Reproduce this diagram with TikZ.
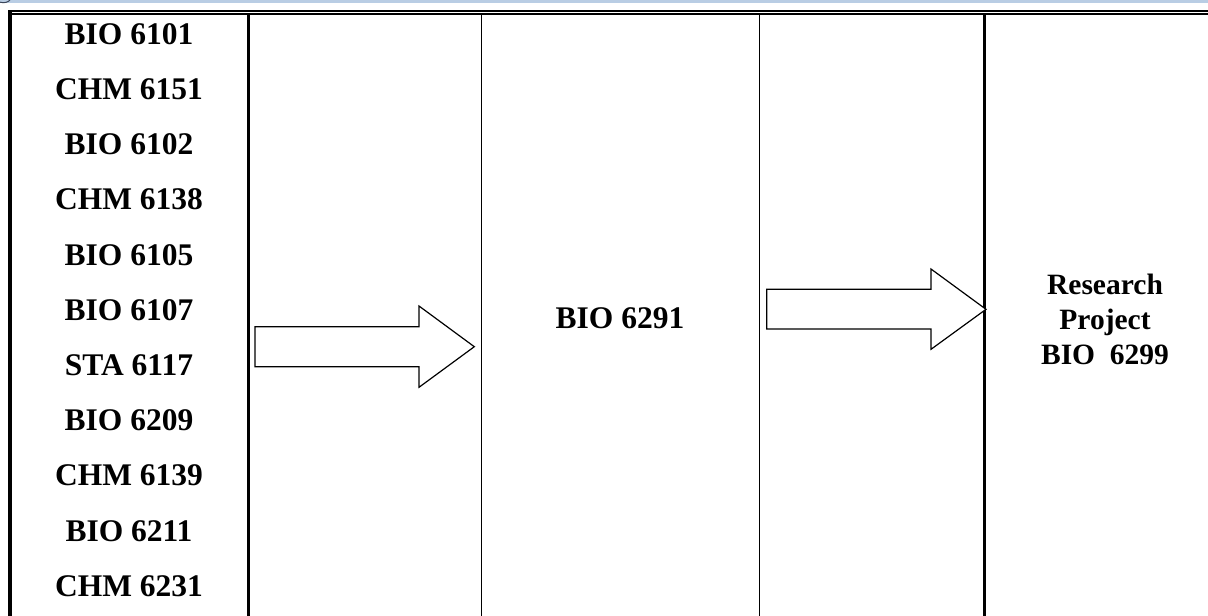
\documentclass[tikz,border=0pt]{standalone}
\usepackage{fontspec}
\setmainfont{Liberation Serif}
\definecolor{bandblue}{RGB}{185,205,228}
\definecolor{glyphgray}{RGB}{60,70,90}
\begin{document}
\begin{tikzpicture}[x=1pt,y=-1pt,
  course/.style={inner sep=0pt,font=\fontsize{31.5}{36}\selectfont\bfseries},
  research/.style={inner sep=0pt,align=center,font=\fontsize{29.5}{35}\selectfont\bfseries},
  thickrule/.style={line width=3pt},
  thinrule/.style={line width=1.6pt},
  blockarrow/.style={draw=black,fill=white,line width=1.2pt,line join=miter}]
\useasboundingbox (0,0) rectangle (1208,616);
\fill[white] (0,0) rectangle (1208,616);
% top band
\fill[bandblue] (0,0) rectangle (1208,3);
\draw[glyphgray,line width=1pt] (0,2.2) .. controls (4,3.2) and (8,2.5) .. (10,0);
% top double line
\draw[line width=1.8pt] (8,10.8) -- (1208,10.8);
\draw[line width=1.5pt] (12,14) -- (1208,14);
% vertical rules
\draw[line width=4pt] (10,10) -- (10,616);
\draw[thickrule] (248.3,14) -- (248.3,616);
\draw[thinrule] (481.5,14) -- (481.5,616);
\draw[thinrule] (759.5,14) -- (759.5,616);
\draw[thickrule] (984,14) -- (984,616);
% course list
\foreach \t [count=\i from 0] in {BIO 6101,CHM 6151,BIO 6102,CHM 6138,BIO 6105,BIO 6107,STA 6117,BIO 6209,CHM 6139,BIO 6211,CHM 6231}
  \node[course] (c\i) at (129,34+55.2*\i) {\t};
\node[course] (mid) at (620,318) {BIO 6291};
\node[research] (res) at (1105,319) {Research\\Project\\BIO\ \ 6299};
% block arrows
\draw[blockarrow] (255,326.7) -- (419,326.7) -- (419,306) -- (474.3,346.7) -- (419,387.3) -- (419,366.7) -- (255,366.7) -- cycle;
\draw[blockarrow] (766.7,289.3) -- (931,289.3) -- (931,269) -- (986,309.3) -- (931,349.3) -- (931,329) -- (766.7,329) -- cycle;
\end{tikzpicture}
\end{document}
